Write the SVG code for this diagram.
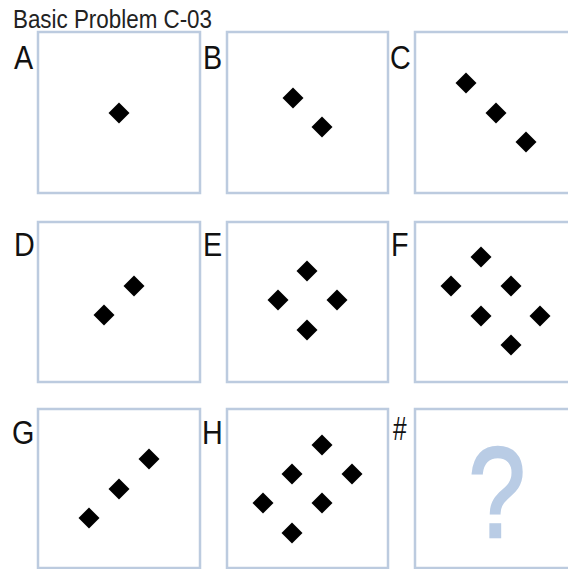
<svg xmlns="http://www.w3.org/2000/svg" width="568" height="569" viewBox="0 0 568 569">
<defs>
<style>
.box{fill:#ffffff;stroke:#bccbdf;stroke-width:2.5}
.lbl{font-family:"Liberation Sans",Arial,sans-serif;font-size:33px;fill:#111}
.title{font-family:"Liberation Sans",Arial,sans-serif;font-size:25px;fill:#222}
.q{font-family:"Liberation Sans",Arial,sans-serif;font-size:128px;fill:#b9cce5;stroke:#b9cce5;stroke-width:2.5}
</style>
<path id="d" d="M0,-10.5 L10.5,0 L0,10.5 L-10.5,0 Z" fill="#000"/>
</defs>
<rect width="568" height="569" fill="#ffffff"/>
<text class="title" x="13" y="28" textLength="199" lengthAdjust="spacingAndGlyphs">Basic Problem C-03</text>
<g id="nodeA">
<rect class="box" x="38" y="32" width="162" height="161"/>
<text class="lbl" transform="translate(14,69) scale(0.87,1)">A</text>
<use href="#d" x="119" y="113"/>
</g>
<g id="nodeB">
<rect class="box" x="227" y="32" width="161" height="161"/>
<text class="lbl" transform="translate(203,69) scale(0.87,1)">B</text>
<use href="#d" x="293" y="98"/>
<use href="#d" x="322" y="127"/>
</g>
<g id="nodeC">
<rect class="box" x="415" y="32" width="162" height="161"/>
<text class="lbl" transform="translate(390,69) scale(0.87,1)">C</text>
<use href="#d" x="466" y="83"/>
<use href="#d" x="496" y="113"/>
<use href="#d" x="526" y="142"/>
</g>
<g id="nodeD">
<rect class="box" x="38" y="222" width="162" height="160"/>
<text class="lbl" transform="translate(14,256) scale(0.87,1)">D</text>
<use href="#d" x="104" y="315"/>
<use href="#d" x="134" y="286"/>
</g>
<g id="nodeE">
<rect class="box" x="227" y="222" width="161" height="160"/>
<text class="lbl" transform="translate(203,256) scale(0.87,1)">E</text>
<use href="#d" x="307" y="271"/>
<use href="#d" x="278" y="300"/>
<use href="#d" x="337" y="300"/>
<use href="#d" x="307" y="330"/>
</g>
<g id="nodeF">
<rect class="box" x="415" y="222" width="162" height="160"/>
<text class="lbl" transform="translate(391,256) scale(0.87,1)">F</text>
<use href="#d" x="481" y="257"/>
<use href="#d" x="451" y="286"/>
<use href="#d" x="511" y="286"/>
<use href="#d" x="481" y="316"/>
<use href="#d" x="540" y="316"/>
<use href="#d" x="511" y="345"/>
</g>
<g id="nodeG">
<rect class="box" x="38" y="409" width="162" height="159"/>
<text class="lbl" transform="translate(12,444) scale(0.87,1)">G</text>
<use href="#d" x="89" y="518"/>
<use href="#d" x="119" y="489"/>
<use href="#d" x="149" y="459"/>
</g>
<g id="nodeH">
<rect class="box" x="227" y="409" width="161" height="159"/>
<text class="lbl" transform="translate(202,444) scale(0.87,1)">H</text>
<use href="#d" x="322" y="445"/>
<use href="#d" x="292" y="474"/>
<use href="#d" x="352" y="474"/>
<use href="#d" x="263" y="503"/>
<use href="#d" x="322" y="503"/>
<use href="#d" x="292" y="533"/>
</g>
<g id="nodeQ">
<rect class="box" x="415" y="409" width="162" height="159"/>
<text class="lbl" transform="translate(393,440) scale(0.72,1)" style="font-size:34px">#</text>
<text class="q" x="0" y="0" text-anchor="middle" transform="translate(497,537) scale(0.8,1)">?</text>
</g>
<g id="connectors"></g>
</svg>
